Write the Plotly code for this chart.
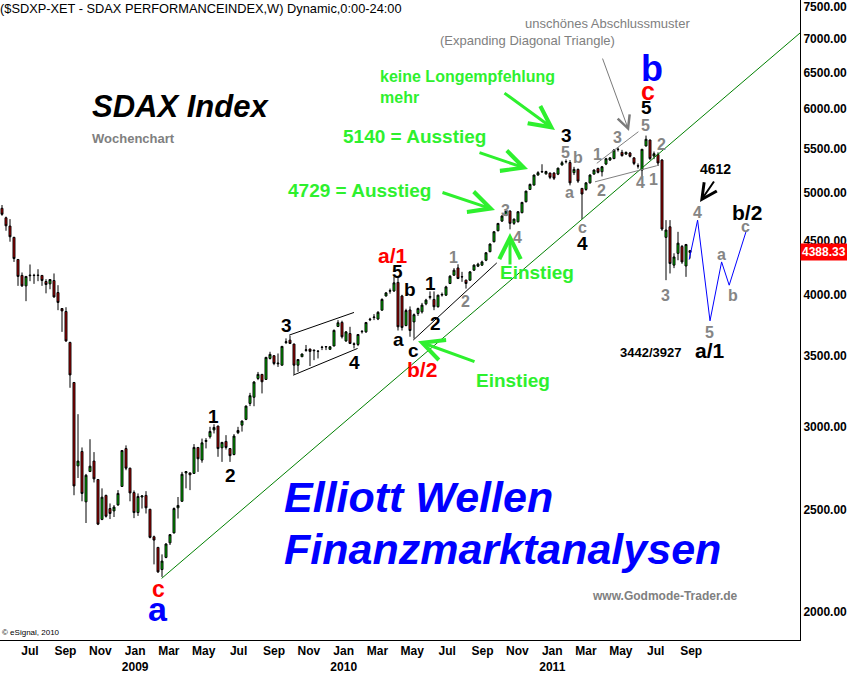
import math
from datetime import datetime, timedelta
import plotly.graph_objects as go

# ---------------- data (weekly SDAX candles) ----------------
START = datetime(2008, 6, 6)

opens = [4832, 4733, 4648, 4535, 4321, 4173, 4079, 4170, 4175, 4172,
         4173, 4118, 4097, 4127, 4020, 3882, 3857, 3605, 3303, 2753,
         2841, 2545, 2719, 2782, 2672, 2449, 2581, 2508, 2495, 2528,
         2632, 2859, 2739, 2597, 2486, 2572, 2581, 2504, 2358, 2304,
         2195, 2254, 2327, 2378, 2512, 2548, 2711, 2711, 2708, 2866,
         2788, 2904, 2934, 2978, 3003, 2864, 2904, 2859, 2822, 2960,
         3009, 3047, 3155, 3198, 3332, 3362, 3325, 3481, 3502, 3440,
         3430, 3604, 3623, 3592, 3430, 3494, 3543, 3553, 3540, 3538,
         3568, 3570, 3551, 3577, 3733, 3766, 3617, 3676, 3594, 3589,
         3690, 3689, 3788, 3806, 3794, 3868, 3990, 4032, 4034, 4110,
         3990, 3740, 3870, 3770, 3840, 3854, 3922, 3978, 3960, 3897,
         3998, 3997, 4100, 4175, 4242, 4162, 4130, 4130, 4221, 4258,
         4268, 4314, 4395, 4492, 4601, 4699, 4757, 4803, 4676, 4692,
         4786, 4902, 5035, 5083, 5196, 5232, 5210, 5218, 5218, 5206,
         5312, 5349, 5340, 5223, 5261, 5047, 5035, 5108, 5207, 5272,
         5234, 5322, 5369, 5386, 5493, 5460, 5440, 5453, 5395, 5303,
         5253, 5537, 5609, 5416, 5434, 5369, 4535, 4641, 4268, 4379,
         4446, 4260, 4405]
highs = [4867, 4745, 4719, 4540, 4325, 4200, 4164, 4274, 4188, 4230,
         4175, 4139, 4136, 4191, 4085, 3885, 3893, 3610, 3305, 3082,
         2866, 2705, 2918, 2837, 2675, 2621, 2585, 2536, 2527, 2611,
         2850, 2879, 2742, 2609, 2592, 2581, 2605, 2506, 2364, 2306,
         2269, 2325, 2372, 2514, 2572, 2717, 2720, 2712, 2887, 2868,
         2922, 2925, 2998, 3015, 3005, 2900, 2944, 2861, 2951, 2998,
         3040, 3141, 3229, 3313, 3380, 3364, 3493, 3532, 3505, 3519,
         3576, 3637, 3658, 3595, 3475, 3518, 3585, 3556, 3547, 3540,
         3578, 3576, 3575, 3708, 3785, 3780, 3695, 3730, 3605, 3670,
         3703, 3770, 3804, 3835, 3860, 3969, 4025, 4055, 4160, 4150,
         4000, 3880, 3900, 3840, 3890, 3930, 3965, 4030, 4030, 4000,
         4020, 4080, 4175, 4240, 4276, 4206, 4135, 4210, 4275, 4290,
         4310, 4390, 4475, 4595, 4680, 4760, 4820, 4810, 4725, 4800,
         4900, 5020, 5100, 5200, 5240, 5320, 5245, 5225, 5230, 5280,
         5360, 5377, 5369, 5290, 5270, 5050, 5115, 5205, 5260, 5280,
         5300, 5395, 5400, 5500, 5520, 5490, 5470, 5465, 5400, 5330,
         5500, 5664, 5615, 5470, 5460, 5380, 4709, 4709, 4380, 4590,
         4460, 4470, 4410]
lows = [4754, 4601, 4492, 4298, 4079, 4070, 3945, 4121, 4097, 4121,
        4079, 4013, 4049, 3974, 3868, 3689, 3609, 3265, 2582, 2681,
        2548, 2430, 2719, 2655, 2419, 2445, 2459, 2451, 2462, 2523,
        2630, 2727, 2548, 2456, 2468, 2508, 2481, 2350, 2220, 2179,
        2160, 2250, 2316, 2375, 2454, 2545, 2621, 2611, 2705, 2717,
        2772, 2860, 2922, 2955, 2808, 2777, 2853, 2777, 2817, 2951,
        2967, 3042, 3137, 3136, 3320, 3225, 3322, 3473, 3430, 3417,
        3428, 3592, 3592, 3361, 3381, 3492, 3532, 3424, 3468, 3481,
        3545, 3545, 3548, 3575, 3728, 3636, 3609, 3592, 3558, 3576,
        3676, 3681, 3777, 3785, 3785, 3866, 3985, 4010, 4025, 3700,
        3700, 3735, 3650, 3635, 3820, 3840, 3910, 3960, 3868, 3890,
        3985, 3990, 4095, 4170, 4140, 4115, 4055, 4125, 4215, 4250,
        4260, 4305, 4390, 4485, 4595, 4690, 4750, 4615, 4660, 4685,
        4780, 4895, 5030, 5080, 5190, 5220, 5200, 5150, 5140, 5195,
        5305, 5330, 5080, 5196, 5108, 4719, 5020, 5100, 5200, 5215,
        5180, 5310, 5360, 5380, 5470, 5410, 5430, 5400, 5310, 5270,
        5160, 5530, 5370, 5380, 5300, 4600, 4130, 4191, 4240, 4314,
        4280, 4160, 4330]
closes = [4769, 4651, 4541, 4330, 4164, 4079, 4164, 4175, 4172, 4175,
          4127, 4091, 4136, 3982, 3934, 3862, 3617, 3358, 2635, 2782,
          2592, 2697, 2751, 2676, 2424, 2571, 2466, 2481, 2516, 2592,
          2847, 2739, 2595, 2486, 2575, 2578, 2512, 2355, 2341, 2184,
          2236, 2321, 2369, 2508, 2525, 2703, 2719, 2700, 2866, 2796,
          2895, 2910, 2968, 2994, 2859, 2898, 2866, 2815, 2938, 2974,
          3036, 3137, 3209, 3306, 3362, 3308, 3489, 3512, 3443, 3445,
          3574, 3610, 3597, 3430, 3473, 3515, 3547, 3535, 3544, 3536,
          3566, 3572, 3571, 3701, 3763, 3650, 3689, 3597, 3590, 3668,
          3693, 3765, 3792, 3810, 3850, 3960, 4017, 4036, 4106, 3730,
          3725, 3865, 3700, 3830, 3882, 3911, 3954, 3985, 3897, 3997,
          4003, 4070, 4166, 4221, 4145, 4160, 4100, 4206, 4268, 4277,
          4298, 4385, 4469, 4591, 4675, 4751, 4803, 4676, 4719, 4796,
          4895, 5017, 5091, 5196, 5223, 5236, 5236, 5170, 5160, 5275,
          5338, 5352, 5108, 5261, 5128, 4985, 5108, 5196, 5253, 5227,
          5291, 5385, 5395, 5488, 5497, 5421, 5460, 5413, 5330, 5299,
          5497, 5618, 5386, 5444, 5335, 4618, 4608, 4283, 4345, 4478,
          4298, 4465, 4388.33]
LAST_PRICE = 4388.33

dates = [START + timedelta(days=7 * i) for i in range(len(opens))]


def wk(w):
    """date at a (fractional) week index counted from the first candle"""
    return START + timedelta(days=7 * w)


# x-axis month labels
tick_months = [(2008, 7), (2008, 9), (2008, 11), (2009, 1), (2009, 3), (2009, 5),
               (2009, 7), (2009, 9), (2009, 11), (2010, 1), (2010, 3), (2010, 5),
               (2010, 7), (2010, 9), (2010, 11), (2011, 1), (2011, 3), (2011, 5),
               (2011, 7), (2011, 9)]
tick_text = ["Jul", "Sep", "Nov", "Jan<br>2009", "Mar", "May", "Jul", "Sep", "Nov",
             "Jan<br>2010", "Mar", "May", "Jul", "Sep", "Nov", "Jan<br>2011", "Mar",
             "May", "Jul", "Sep"]
tick_vals = [datetime(y, m, 25) for (y, m) in tick_months]

# y-axis labels
y_ticks = [2000, 2500, 3000, 3500, 4000, 4500, 5000, 5500, 6000, 6500, 7000, 7500]
y_text = [f"{v:.2f}" for v in y_ticks]

# drawn lines (week index, price)
trend_w, trend_p = [39.9, 199.5], [2153, 7086]
chan_up_w, chan_up_p = [71.8, 88.0], [3663, 3849]
chan_lo_w, chan_lo_p = [72.8, 88.9], [3356, 3558]
b2_w, b2_p = [102.8, 123.7], [3623, 4289]
edt_up_w, edt_up_p = [148.7, 159.1], [5331, 5712]
edt_lo_w, edt_lo_p = [148.25, 163.7], [5120, 5303]
proj_w = [171.8, 173.9, 177.0, 179.9, 181.8, 186.0]
proj_p = [4320, 4709, 3779, 4298, 4085, 4591]

BLACK, GRAY, RED, BLUE = "#000000", "#858585", "#ff0000", "#0000ff"
LIME = "#2ef02e"
FONT = "Liberation Sans, Arial, sans-serif"

# wave labels: text, week index, price, colour, size
wave_labels = [
    ("c", 39.0, 2105, RED, 23), ("a", 39.0, 2015, BLUE, 34),
    ("1", 52.75, 3069, BLACK, 19), ("2", 57.0, 2697, BLACK, 19),
    ("3", 71.0, 3740, BLACK, 19), ("4", 88.0, 3453, BLACK, 19),
    ("a/1", 97.75, 4362, RED, 21), ("5", 98.75, 4212, BLACK, 19),
    ("b", 102.0, 4049, BLACK, 19), ("1", 107.0, 4103, BLACK, 19),
    ("a", 99.0, 3631, BLACK, 19), ("2", 108.25, 3760, BLACK, 19),
    ("c", 102.75, 3545, BLACK, 19), ("b/2", 105.0, 3400, RED, 21),
    ("1", 112.75, 4342, GRAY, 16), ("2", 115.75, 3945, GRAY, 16),
    ("3", 125.75, 4814, GRAY, 16), ("4", 128.75, 4537, GRAY, 16),
    ("3", 141.0, 5670, BLACK, 19), ("5", 140.75, 5464, GRAY, 16),
    ("b", 144.0, 5404, GRAY, 16), ("a", 141.75, 5006, GRAY, 16),
    ("c", 145.0, 4638, GRAY, 16), ("4", 145.0, 4477, BLACK, 19),
    ("1", 148.75, 5440, GRAY, 16), ("2", 149.75, 5028, GRAY, 16),
    ("3", 153.75, 5646, GRAY, 16), ("5", 160.75, 5784, GRAY, 16),
    ("5", 161.0, 6028, BLACK, 19), ("c", 161.5, 6244, RED, 25),
    ("b", 162.5, 6557, BLUE, 36), ("4", 159.5, 5117, GRAY, 16),
    ("1", 162.75, 5150, GRAY, 16), ("2", 164.75, 5560, GRAY, 16),
    ("3", 165.75, 3997, GRAY, 16), ("4612", 178.25, 5264, BLACK, 14),
    ("4", 173.75, 4783, GRAY, 16), ("5", 176.75, 3687, GRAY, 16),
    ("a/1", 177.0, 3545, BLACK, 21), ("3442/3927", 162.0, 3530, BLACK, 13),
    ("a", 179.75, 4373, GRAY, 16), ("b", 182.75, 3997, GRAY, 16),
    ("c", 185.75, 4648, GRAY, 16), ("b/2", 186.25, 4783, BLACK, 21),
]

# arrows: tip week, tip price, tail offset x/y (px), colour, width, head size
arrows = [
    (104.0, 3615, 58, 21, LIME, 3, 1.4),
    (127.0, 4578, 0, 33, LIME, 3, 1.4),
    (123.25, 4814, -54, -18, LIME, 3, 1.4),
    (131.5, 5264, -50, -17, LIME, 3, 1.4),
    (138.25, 5733, -52, -38, LIME, 3, 1.4),
    (174.5, 4899, 15, -22, BLACK, 2, 1.5),
    (156.75, 5720, -27, -74, "#7a7a7a", 1, 2.5),
]

# free texts in paper coordinates: text, x, y, colour, size, bold, italic
free_texts = [
    ("SDAX Index", 0.112, 0.834, BLACK, 31, True, True),
    ("Wochenchart", 0.113, 0.784, "#808080", 13, True, False),
    ("Elliott Wellen", 0.353, 0.223, BLUE, 43, True, True),
    ("Finanzmarktanalysen", 0.353, 0.142, BLUE, 43, True, True),
    ("www.Godmode-Trader.de", 0.738, 0.069, "#808080", 12, True, False),
    ("© eSignal, 2010", 0.0, 0.011, BLACK, 8, False, False),
    ("keine Longempfehlung", 0.472, 0.880, LIME, 16, True, False),
    ("mehr", 0.472, 0.848, LIME, 16, True, False),
    ("5140 = Ausstieg", 0.426, 0.7875, LIME, 19, True, False),
    ("4729 = Ausstieg", 0.358, 0.703, LIME, 19, True, False),
    ("Einstieg", 0.622, 0.575, LIME, 19, True, False),
    ("Einstieg", 0.593, 0.4047, LIME, 19, True, False),
    ("unschönes Abschlussmuster", 0.654, 0.964, "#808080", 13, False, False),
    ("(Expanding Diagonal Triangle)", 0.547, 0.936, "#808080", 13, False, False),
]

# ---------------- figure ----------------
fig = go.Figure()

fig.add_trace(go.Candlestick(
    x=dates, open=opens, high=highs, low=lows, close=closes,
    increasing=dict(fillcolor="#00cc00", line=dict(color=BLACK, width=1)),
    decreasing=dict(fillcolor="#cc0000", line=dict(color=BLACK, width=1)),
    whiskerwidth=0, hoverinfo="skip", showlegend=False,
))


def add_line(ws, ps, color, width=1):
    fig.add_trace(go.Scatter(x=[wk(w) for w in ws], y=ps, mode="lines",
                             line=dict(color=color, width=width),
                             hoverinfo="skip", showlegend=False))


add_line(trend_w, trend_p, "#008000")
add_line(chan_up_w, chan_up_p, BLACK)
add_line(chan_lo_w, chan_lo_p, BLACK)
add_line(b2_w, b2_p, BLACK)
add_line(edt_up_w, edt_up_p, "#808080")
add_line(edt_lo_w, edt_lo_p, "#808080")
add_line(proj_w, proj_p, BLUE)

annotations = []
for text, w, p, col, size in wave_labels:
    annotations.append(dict(
        x=wk(w), y=math.log10(p), xref="x", yref="y", text=f"<b>{text}</b>",
        showarrow=False, xanchor="center", yanchor="middle",
        font=dict(family=FONT, size=size, color=col)))

for w, p, ax, ay, col, width, size in arrows:
    annotations.append(dict(
        x=wk(w), y=math.log10(p), xref="x", yref="y", text="",
        showarrow=True, ax=ax, ay=ay, arrowhead=5, arrowsize=size,
        arrowwidth=width, arrowcolor=col, standoff=0))

for text, x, y, col, size, bold, italic in free_texts:
    t = text
    if italic:
        t = f"<i>{t}</i>"
    if bold:
        t = f"<b>{t}</b>"
    annotations.append(dict(
        x=x, y=y, xref="paper", yref="paper", text=t, showarrow=False,
        xanchor="left", yanchor="middle",
        font=dict(family=FONT, size=size, color=col)))

# chart header
annotations.append(dict(
    x=0, y=1, xref="paper", yref="paper", xanchor="left", yanchor="top",
    xshift=-2, yshift=1,
    text="($SDXP-XET - SDAX PERFORMANCEINDEX,W) Dynamic,0:00-24:00",
    showarrow=False, font=dict(family=FONT, size=12.8, color=BLACK)))

# last price tag on the price axis
annotations.append(dict(
    x=1, y=math.log10(LAST_PRICE), xref="paper", yref="y", xanchor="left",
    yanchor="middle", text=f"<b>{LAST_PRICE:.2f}</b>", showarrow=False,
    bgcolor="#ff0000", borderpad=1,
    font=dict(family=FONT, size=12, color="#ffffff")))

fig.update_layout(
    width=847, height=673,
    margin=dict(l=0, r=47, t=0, b=33),
    paper_bgcolor="white", plot_bgcolor="white",
    showlegend=False, hovermode=False,
    annotations=annotations,
    xaxis=dict(
        type="date", range=[wk(-0.5), wk(199.5)],
        rangeslider=dict(visible=False),
        showgrid=False, zeroline=False,
        showline=True, linecolor=BLACK, linewidth=1,
        ticks="", tickvals=tick_vals, ticktext=tick_text,
        tickfont=dict(family=FONT, size=12, color=BLACK, weight="bold"),
    ),
    yaxis=dict(
        type="log", side="right",
        range=[math.log10(1882), math.log10(7616)],
        showgrid=False, zeroline=False,
        showline=True, linecolor=BLACK, linewidth=1,
        ticks="", tickvals=y_ticks, ticktext=y_text,
        tickfont=dict(family=FONT, size=12, color=BLACK, weight="bold"),
    ),
)

fig.write_html(
    "out.html",
    config={"displayModeBar": False, "staticPlot": True},
    post_script="document.body.style.margin='0px';"
                "document.body.style.overflow='hidden';",
)
